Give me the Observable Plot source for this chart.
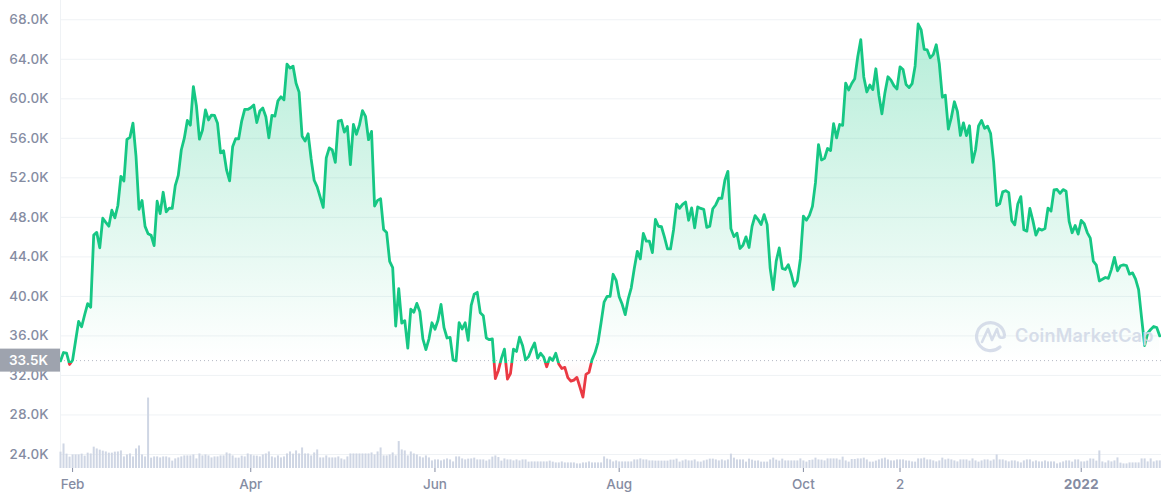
<!DOCTYPE html>
<html>
<head>
<meta charset="utf-8">
<style>html,body{margin:0;padding:0;background:#fff;overflow:hidden}</style>
<script src="https://cdn.jsdelivr.net/npm/d3@7"></script>
<script src="https://cdn.jsdelivr.net/npm/@observablehq/plot@0.6"></script>
</head>
<body>
<div id="chart"></div>
<script>
const startDay = new Date(Date.UTC(2021, 0, 28));
const baseline = 33.5;
const yTickValues = [24, 28, 32, 36, 40, 44, 48, 52, 56, 60, 64, 68];
const xTickDates = ["2021-02-01", "2021-04-01", "2021-06-01", "2021-08-01", "2021-10-01", "2021-11-02"];
const xTickLabels = ["Feb", "Apr", "Jun", "Aug", "Oct", "2"];
const xBoldDate = "2022-01-01";
const xBoldLabel = "2022";

// daily price in thousands
const priceJan21 = [33.47, 34.32, 34.27, 33.11];
const priceFeb21 = [33.54, 35.51, 37.47, 36.93, 38.14, 39.27, 38.90, 46.20, 46.48, 44.92, 47.91, 47.50, 47.11, 48.72, 47.95, 49.20, 52.15, 51.68, 55.89, 56.10, 57.54, 54.21, 48.82, 49.71, 47.09, 46.34, 46.19, 45.14];
const priceMar21 = [49.63, 48.38, 50.54, 48.56, 48.93, 48.91, 51.21, 52.25, 54.82, 56.01, 57.81, 57.33, 61.24, 59.30, 55.91, 56.80, 58.87, 57.86, 58.35, 58.31, 57.52, 54.53, 54.74, 52.77, 51.70, 55.14, 55.97, 55.95, 57.75, 58.92, 58.92];
const priceApr21 = [59.10, 59.38, 57.60, 58.76, 59.06, 58.19, 56.05, 58.32, 58.25, 59.79, 60.20, 59.89, 63.50, 63.11, 63.31, 61.57, 60.68, 56.22, 55.72, 56.47, 53.91, 51.76, 51.09, 50.05, 49.00, 54.02, 55.03, 54.82, 53.56, 57.75];
const priceMay21 = [57.83, 56.63, 57.20, 53.33, 57.42, 56.40, 57.36, 58.80, 58.23, 55.86, 56.70, 49.15, 49.72, 49.88, 46.76, 46.46, 43.54, 42.91, 37.00, 40.78, 37.30, 37.54, 34.77, 38.71, 38.40, 39.29, 38.44, 35.70, 34.62, 35.68, 37.33];
const priceJun21 = [36.68, 37.58, 39.19, 36.83, 35.79, 35.86, 33.56, 33.47, 37.35, 36.70, 37.33, 35.55, 39.10, 40.22, 40.41, 38.35, 38.05, 35.79, 35.62, 35.70, 31.68, 32.51, 33.72, 34.66, 31.64, 32.19, 34.65, 34.43, 35.87, 35.04];
const priceJul21 = [33.57, 33.90, 34.67, 35.29, 33.75, 34.24, 33.86, 32.88, 33.80, 33.52, 34.24, 33.16, 32.70, 32.82, 31.78, 31.42, 31.53, 31.80, 30.82, 29.81, 32.11, 32.31, 33.58, 34.29, 35.35, 37.34, 39.41, 40.00, 40.01, 42.24, 41.63];
const priceAug21 = [39.97, 39.20, 38.15, 39.75, 40.87, 42.82, 44.56, 43.80, 46.37, 45.59, 45.59, 44.43, 47.79, 47.10, 47.05, 46.00, 44.80, 44.80, 46.72, 49.34, 48.91, 49.32, 49.55, 47.71, 48.96, 46.94, 49.06, 48.90, 48.81, 46.99, 47.11];
const priceSep21 = [48.87, 49.28, 49.94, 49.92, 51.76, 52.66, 46.86, 46.05, 46.40, 44.85, 45.17, 46.03, 44.95, 47.09, 48.18, 47.78, 47.27, 48.28, 47.26, 42.84, 40.69, 43.57, 44.90, 42.84, 42.72, 43.21, 42.24, 41.03, 41.56, 43.79];
const priceOct21 = [48.12, 47.71, 48.20, 49.11, 51.51, 55.36, 53.81, 53.97, 54.97, 54.77, 57.48, 56.04, 57.40, 57.32, 61.59, 60.89, 61.55, 62.03, 64.26, 65.99, 62.21, 60.69, 61.39, 60.93, 63.04, 60.36, 58.48, 60.62, 62.23, 61.89, 61.32];
const priceNov21 = [61.00, 63.23, 62.97, 61.45, 61.13, 61.53, 63.33, 67.57, 66.97, 65.00, 64.95, 64.16, 64.47, 65.47, 63.56, 60.16, 60.37, 56.94, 58.12, 59.70, 58.73, 56.29, 57.57, 56.28, 57.27, 53.57, 54.82, 57.25, 57.81, 57.01];
const priceDec21 = [57.23, 56.48, 53.60, 49.20, 49.37, 50.58, 50.70, 50.50, 47.67, 47.24, 49.36, 50.10, 46.74, 46.61, 48.90, 47.67, 46.20, 46.85, 46.71, 46.88, 48.94, 48.63, 50.78, 50.82, 50.43, 50.81, 50.64, 47.59, 46.44, 47.18, 46.31];
const priceJan22 = [47.69, 47.35, 46.46, 45.90, 43.57, 43.16, 41.56, 41.73, 41.91, 41.82, 42.74, 43.95, 42.59, 43.10, 43.18, 43.11, 42.25, 42.38, 41.74, 40.68, 37.80, 35.03, 36.28, 36.65, 36.95, 36.85, 36.00];
const prices = [].concat(priceJan21, priceFeb21, priceMar21, priceApr21, priceMay21, priceJun21, priceJul21, priceAug21, priceSep21, priceOct21, priceNov21, priceDec21, priceJan22);

// daily volume in billions
const volumeA = [82,123,72,57,68,68,68,72,62,77,73,107,98,92,87,83,77,77,82,83,88,58,68,73,58,98,113,68,58,353,52,58,58,53,58,58,53,37,48,53,58,63,63,63,68,48,73,63,68,63,53,58,58,63,63,78,73,63,52,52,62,58,73,68,63];
const volumeB = [62,58,68,73,83,58,53,63,53,58,73,83,72,88,73,103,73,73,63,78,93,53,53,63,53,53,53,58,48,43,58,73,73,73,73,73,73,73,78,68,83,103,63,63,68,78,63,135,93,88,63,83,73,68,58,53,63,53,38,43,43,38,43,48,43,33];
const volumeC = [58,58,48,43,47,48,52,43,43,43,37,43,57,63,55,37,48,43,43,38,43,38,43,43,32,33,33,33,33,33,33,37,32,28,28,33,28,28,28,28,23,23,28,28,33,28,28,28,28,58,47,43,33,38,33,33,33,33,33,43,43,48,43,43,38,38];
const volumeD = [37,37,37,37,37,42,42,47,32,38,43,38,38,43,33,32,38,42,47,47,43,38,43,38,43,72,52,43,43,43,32,47,42,37,38,32,32,32,43,52,42,37,47,38,38,38,38,38,48,38,32,40,42,52,43,42,38,48,48,48,48,42,57,38,32,45,45];
const volumeE = [48,48,52,43,32,32,37,43,48,52,43,38,38,43,43,43,38,37,33,32,48,48,52,43,43,38,33,38,52,43,47,43,38,33,43,43,43,37,48,38,32,38,43,43,37,43,68,43,43,38,33,38,38,33,28,38,43,43,33,38,33,33,38,33,33,33,23,28,33,38,38,32,43,43,33,33,37,48,47,37,88,33,28,38,33,38,53,27,23,23,28,28,28,28,48,48,33,48,33,38,38];
const volumes = [].concat(volumeA, volumeB, volumeC, volumeD, volumeE);

const dates = prices.map((_, i) => d3.utcDay.offset(startDay, i));
const rows = dates.map((date, i) => ({date, price: prices[i], volume: volumes[i] ?? 0}));
const volumeFloor = 22.58;
const volumeUnit = 0.0202; // thousands of price axis per billion of volume

const GREEN = "#16c784", RED = "#ea3943", GRID = "#eff2f5", INK = "#858ca2";

function defsMark(index, {y}) {
  const g = d3.create("svg:g");
  const defs = g.append("defs");
  const fill = defs.append("linearGradient").attr("id", "areaFill")
    .attr("gradientUnits", "userSpaceOnUse").attr("x1", 0).attr("x2", 0)
    .attr("y1", y(67.6)).attr("y2", y(29.8));
  const off = (67.6 - baseline) / (67.6 - 29.8);
  fill.append("stop").attr("offset", 0).attr("stop-color", GREEN).attr("stop-opacity", 0.32);
  fill.append("stop").attr("offset", off).attr("stop-color", GREEN).attr("stop-opacity", 0);
  fill.append("stop").attr("offset", off).attr("stop-color", RED).attr("stop-opacity", 0);
  fill.append("stop").attr("offset", 1).attr("stop-color", RED).attr("stop-opacity", 0.1);
  const stroke = defs.append("linearGradient").attr("id", "lineStroke")
    .attr("gradientUnits", "userSpaceOnUse").attr("x1", 0).attr("x2", 0)
    .attr("y1", y(68)).attr("y2", y(29));
  const o2 = (68 - 33.3) / (68 - 29);
  stroke.append("stop").attr("offset", o2).attr("stop-color", GREEN);
  stroke.append("stop").attr("offset", o2).attr("stop-color", RED);
  return g.node();
}

function currentTag(index, {y}) {
  const g = d3.create("svg:g");
  g.append("rect").attr("x", 0).attr("y", y(baseline) - 11.5).attr("width", 60).attr("height", 23).attr("fill", "#9ea3ae");
  g.append("text").attr("x", 48).attr("y", y(baseline)).attr("dy", "0.36em").attr("text-anchor", "end")
    .attr("fill", "#fff").attr("font-size", 13.5).attr("font-weight", 600).text("33.5K");
  return g.node();
}

function watermark() {
  const g = d3.create("svg:g").attr("opacity", 0.9);
  const c = "#d3dae8";
  g.append("path").attr("d", "M1000 347 A14 14 0 1 1 1004.5 335")
    .attr("fill", "none").attr("stroke", c).attr("stroke-width", 3.2).attr("stroke-linecap", "round");
  g.append("path").attr("d", "M982 342 L988 329 L992 340 L997 329 L999 336 Q1000 339 1004.5 337")
    .attr("fill", "none").attr("stroke", c).attr("stroke-width", 2.6).attr("stroke-linejoin", "round").attr("stroke-linecap", "round");
  g.append("text").attr("x", 1015).attr("y", 342).attr("fill", c).attr("text-anchor", "start")
    .attr("font-family", "Inter").attr("font-weight", 600).attr("font-size", 18).attr("letter-spacing", "0.2px").text("CoinMarketCap");
  return g.node();
}

const xLabelOf = new Map(xTickDates.map((d, i) => [+new Date(d), xTickLabels[i]]));

const chart = Plot.plot({
  width: 1161,
  height: 500,
  marginLeft: 60,
  marginRight: 0,
  marginTop: 0,
  marginBottom: 32,
  style: {fontFamily: "Inter", fontSize: "13px", color: INK, background: "#fff", overflow: "visible"},
  x: {type: "utc", domain: [startDay, new Date(Date.UTC(2022, 0, 27, 14))], range: [60, 1161]},
  y: {domain: [volumeFloor, 69.95], range: [468, 0]},
  marks: [
    defsMark,
    Plot.ruleY(yTickValues, {stroke: GRID}),
    Plot.ruleX([startDay], {stroke: GRID}),
    Plot.areaY(rows, {x: "date", y1: () => baseline, y2: "price", fill: "url(#areaFill)"}),
    Plot.ruleX(rows, {x: "date", y1: () => volumeFloor, y2: d => volumeFloor + d.volume * volumeUnit, stroke: "#cfd6e4", strokeWidth: 2}),
    Plot.ruleY([baseline], {stroke: "#b4b9c4", strokeDasharray: "1 3"}),
    Plot.lineY(rows, {x: "date", y: "price", stroke: "url(#lineStroke)", strokeWidth: 2.8, strokeLinejoin: "round"}),
    Plot.axisY({ticks: yTickValues, tickFormat: d => d.toFixed(1) + "K", tickSize: 0, tickPadding: 12, label: null, fontWeight: 500, fontSize: 13.5}),
    Plot.axisX({ticks: xTickDates.map(d => new Date(d)), tickFormat: d => xLabelOf.get(+d), tickSize: 4, tickPadding: 7, label: null, fontWeight: 500, fontSize: 13.5}),
    Plot.axisX({ticks: [new Date(xBoldDate)], tickFormat: () => xBoldLabel, tickSize: 4, tickPadding: 7, label: null, fontWeight: 700, fontSize: 13.5}),
    currentTag,
    watermark
  ]
});
document.getElementById("chart").appendChild(chart);
</script>
</body>
</html>
